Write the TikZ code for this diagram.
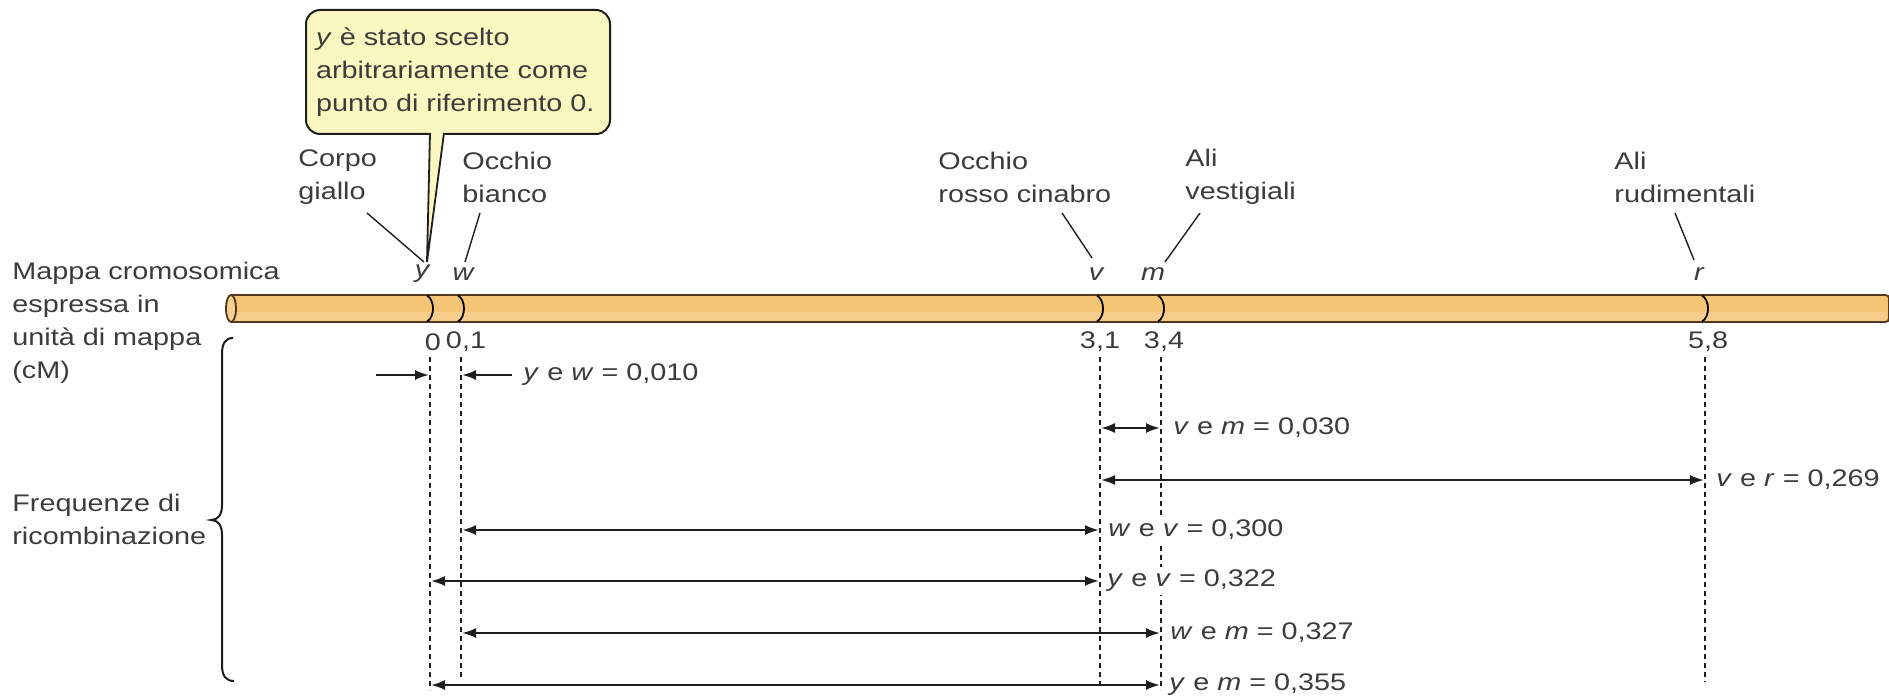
\documentclass[tikz,border=0pt]{standalone}
\usepackage{fontspec}
\setmainfont{Liberation Sans}[FakeStretch=1.2]
\usetikzlibrary{arrows.meta}
\definecolor{txt}{RGB}{60,60,60}
\definecolor{ln}{RGB}{30,30,30}
\definecolor{barfill}{RGB}{245,197,118}
\definecolor{barline}{RGB}{80,55,30}
\definecolor{callfill}{RGB}{251,247,192}
\tikzset{
  lbl/.style={font=\fontsize{12pt}{16.5pt}\selectfont, text=txt, inner sep=0pt, align=left},
  gene/.style={font=\fontsize{12pt}{16.5pt}\selectfont\itshape, text=txt, inner sep=0pt},
  num/.style={font=\fontsize{12pt}{16.5pt}\selectfont, text=txt, inner sep=0pt},
  val/.style={font=\fontsize{12pt}{16.5pt}\selectfont, text=txt, fill=white, inner sep=1.5pt, anchor=west},
  leader/.style={draw=ln, line width=0.7pt},
  guide/.style={draw=ln, line width=0.7pt, dash pattern=on 2.5pt off 2pt},
  dist/.style={draw=ln, line width=1.1pt, arrows={Latex[length=7pt,width=5pt]-Latex[length=7pt,width=5pt]}},
  onearrow/.style={draw=ln, line width=1.1pt, -{Latex[length=7pt,width=5pt]}},
  locus/.style={draw=black, line width=0.9pt},
  callbox/.style={draw=ln, line width=1pt, fill=callfill, rounded corners=7pt, minimum width=152pt, minimum height=62pt, text width=142pt, align=left, font=\fontsize{12pt}{16.5pt}\selectfont, text=txt, inner sep=0pt},
}
\begin{document}
\begin{tikzpicture}[x=0.5pt,y=-0.5pt]
\useasboundingbox (0,0) rectangle (1889,700);
\fill[white] (0,0) rectangle (1889,700);

% callout
\node[callbox] (note) at (458,72) {\textit{y} è stato scelto\\arbitrariamente come\\punto di riferimento 0.};
\coordinate (tailL) at (430,133);
\coordinate (tailR) at (444,133);
\coordinate (tailT) at (427,262);
\fill[callfill] (429,130) -- (tailT) -- (445,130) -- cycle;
\draw[leader, line width=0.9pt] (tailL) -- (tailT) -- (tailR);

% left labels
\node[lbl, anchor=west] (mappa) at (12,323) {Mappa cromosomica\\espressa in\\unità di mappa\\(cM)};
\node[lbl, anchor=west] (freq) at (12,519) {Frequenze di\\ricombinazione};

% gene name labels
\node[lbl, anchor=west] (corpo) at (298,177) {Corpo\\giallo};
\node[lbl, anchor=west] (bianco) at (462,177) {Occhio\\bianco};
\node[lbl, anchor=west] (cinabro) at (938,177) {Occhio\\rosso cinabro};
\node[lbl, anchor=west] (vestig) at (1185,177) {Ali\\vestigiali};
\node[lbl, anchor=west] (rudim) at (1614,177) {Ali\\rudimentali};

% gene letters
\node[gene] (gy) at (422,274) {y};
\node[gene] (gw) at (463,274) {w};
\node[gene] (gv) at (1096,274) {v};
\node[gene] (gm) at (1153,274) {m};
\node[gene] (gr) at (1699,274) {r};

% leaders
\coordinate (c1a) at (367,213); \coordinate (c1b) at (424,262);
\coordinate (c2a) at (480,213); \coordinate (c2b) at (465,262);
\coordinate (c3a) at (1062,213); \coordinate (c3b) at (1092,258);
\coordinate (c4a) at (1200,213); \coordinate (c4b) at (1165,262);
\coordinate (c5a) at (1675,213); \coordinate (c5b) at (1694,260);
\draw[leader] (c1a) -- (c1b);
\draw[leader] (c2a) -- (c2b);
\draw[leader] (c3a) -- (c3b);
\draw[leader] (c4a) -- (c4b);
\draw[leader] (c5a) -- (c5b);

% chromosome bar
\fill[barfill] (231,295) -- (1881,295) .. controls (1889,295) and (1889,295) .. (1889,303) -- (1889,314) .. controls (1889,322) and (1889,322) .. (1881,322) -- (231,322) -- cycle;
\fill[white, opacity=0.15] (231,312) rectangle (1886,321);
\draw[barline, line width=0.9pt] (231,295) -- (1881,295) .. controls (1889,295) and (1889,295) .. (1889,303) -- (1889,314) .. controls (1889,322) and (1889,322) .. (1881,322) -- (231,322);
\draw[barline, line width=0.9pt, fill=barfill!80!white] (231,308.5) ellipse [x radius=5, y radius=13.5];

% loci
\foreach \x in {430,461,1100,1161,1705}{
  \draw[locus] (\x-3,295.5) .. controls (\x+5,300) and (\x+5,317) .. (\x-3,321.5);
}

% map numbers
\node[num] (n0) at (433,342) {0};
\node[num] (n01) at (466,342) {0,1};
\node[num] (n31) at (1100,342) {3,1};
\node[num] (n34) at (1164,342) {3,4};
\node[num] (n58) at (1708,342) {5,8};

% guide lines
\coordinate (ty) at (430,357); \coordinate (by) at (430,690);
\coordinate (tw) at (461,357); \coordinate (bw) at (461,680);
\coordinate (tv) at (1100,357); \coordinate (bv) at (1100,684);
\coordinate (tm) at (1161,357); \coordinate (bm) at (1161,690);
\coordinate (tr) at (1705,357); \coordinate (br) at (1705,682);
\draw[guide] (ty) -- (by);
\draw[guide] (tw) -- (bw);
\draw[guide] (tv) -- (bv);
\draw[guide] (tm) -- (bm);
\draw[guide] (tr) -- (br);

% brace
\draw[ln, line width=1pt] (233,338) .. controls (225,338) and (222,344) .. (222,354) -- (222,505) .. controls (222,515) and (218,520) .. (211,520) .. controls (218,520) and (222,525) .. (222,535) -- (222,665) .. controls (222,676) and (226,681) .. (234,681);

% distances
\coordinate (ywL0) at (376,375); \coordinate (ywL1) at (429,375);
\coordinate (ywR0) at (512,375); \coordinate (ywR1) at (462,375);
\draw[onearrow] (ywL0) -- (ywL1);
\draw[onearrow] (ywR0) -- (ywR1);
\node[val] (tyw) at (520,375) {\textit{y} e \textit{w} = 0,010};

\coordinate (vm0) at (1101,428); \coordinate (vm1) at (1160,428);
\draw[dist] (vm0) -- (vm1);
\node[val] (tvm) at (1170,428) {\textit{v} e \textit{m} = 0,030};

\coordinate (vr0) at (1101,480); \coordinate (vr1) at (1704,480);
\draw[dist] (vr0) -- (vr1);
\node[val] (tvr) at (1713,480) {\textit{v} e \textit{r} = 0,269};

\coordinate (wv0) at (462,530); \coordinate (wv1) at (1099,530);
\draw[dist] (wv0) -- (wv1);
\node[val] (twv) at (1105,530) {\textit{w} e \textit{v} = 0,300};

\coordinate (yv0) at (431,581); \coordinate (yv1) at (1099,581);
\draw[dist] (yv0) -- (yv1);
\node[val] (tyv) at (1104,581) {\textit{y} e \textit{v} = 0,322};

\coordinate (wm0) at (462,633); \coordinate (wm1) at (1160,633);
\draw[dist] (wm0) -- (wm1);
\node[val] (twm) at (1167,633) {\textit{w} e \textit{m} = 0,327};

\coordinate (ym0) at (431,685); \coordinate (ym1) at (1160,685);
\draw[dist] (ym0) -- (ym1);
\node[val] (tym) at (1166,685) {\textit{y} e \textit{m} = 0,355};
\end{tikzpicture}
\end{document}
